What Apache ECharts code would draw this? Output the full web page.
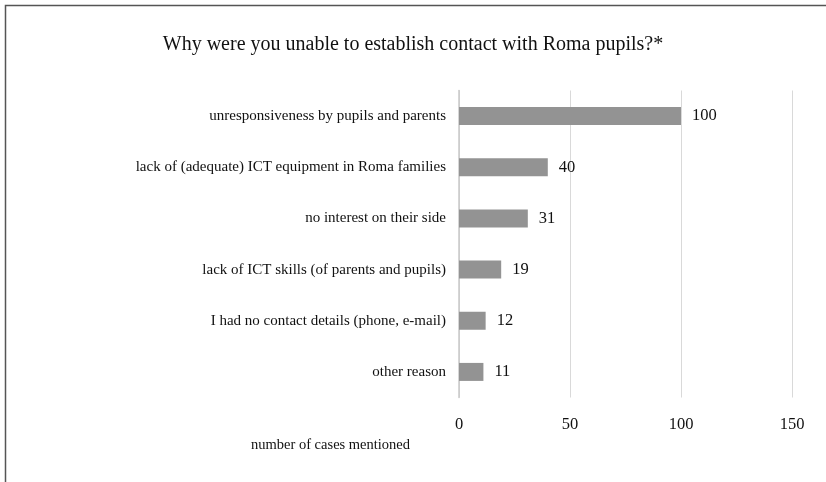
<!DOCTYPE html>
<html>
<head>
<meta charset="utf-8">
<script src="https://cdn.jsdelivr.net/npm/echarts@6/dist/echarts.min.js"></script>
<style>
html,body{margin:0;padding:0;background:#fff;}
#chart{width:826px;height:482px;}
</style>
</head>
<body>
<div id="chart"></div>
<script>
// Reasons given, listed top to bottom
const categories = [
  'unresponsiveness by pupils and parents',
  'lack of (adequate) ICT equipment in Roma families',
  'no interest on their side',
  'lack of ICT skills (of parents and pupils)',
  'I had no contact details (phone, e-mail)',
  'other reason'
];
const cases = [100, 40, 31, 19, 12, 11];
const axisTicks = [0, 50, 100, 150];

const serif = '"Liberation Serif", "DejaVu Serif", serif';
const chart = echarts.init(document.getElementById('chart'));

chart.setOption({
  animation: false,
  backgroundColor: '#fff',
  graphic: [
    {
      type: 'polyline',
      shape: { points: [[5.5, 482], [5.5, 5.5], [826, 5.5]] },
      style: { stroke: '#555', lineWidth: 1.5, fill: null }
    },
    {
      type: 'text',
      left: 251, top: 438,
      style: { text: 'number of cases mentioned', font: '14.5px ' + serif, fill: '#111' }
    }
  ],
  title: {
    text: 'Why were you unable to establish contact with Roma pupils?*',
    left: 'center', top: 30,
    textStyle: { fontFamily: serif, fontSize: 20, fontWeight: 'normal', color: '#111' }
  },
  grid: { left: 459, right: 34, top: 90.5, bottom: 84.5, containLabel: false },
  xAxis: {
    type: 'value',
    min: axisTicks[0], max: axisTicks[axisTicks.length - 1], interval: 50,
    axisLine: { show: false },
    axisTick: { show: false },
    splitLine: { show: true, lineStyle: { color: '#d9d9d9', width: 1 } },
    axisLabel: { fontFamily: serif, fontSize: 16.5, color: '#111', margin: 19 }
  },
  yAxis: {
    type: 'category',
    data: categories,
    inverse: true,
    axisLine: { show: true, lineStyle: { color: '#c8c8c8', width: 1.5 } },
    axisTick: { show: false },
    axisLabel: { fontFamily: serif, fontSize: 15, color: '#111', margin: 13 }
  },
  series: [{
    type: 'bar',
    data: cases,
    barWidth: 18,
    itemStyle: { color: '#939393' },
    label: {
      show: true, position: 'right', distance: 11,
      fontFamily: serif, fontSize: 16.5, color: '#111'
    }
  }]
});
</script>
</body>
</html>
